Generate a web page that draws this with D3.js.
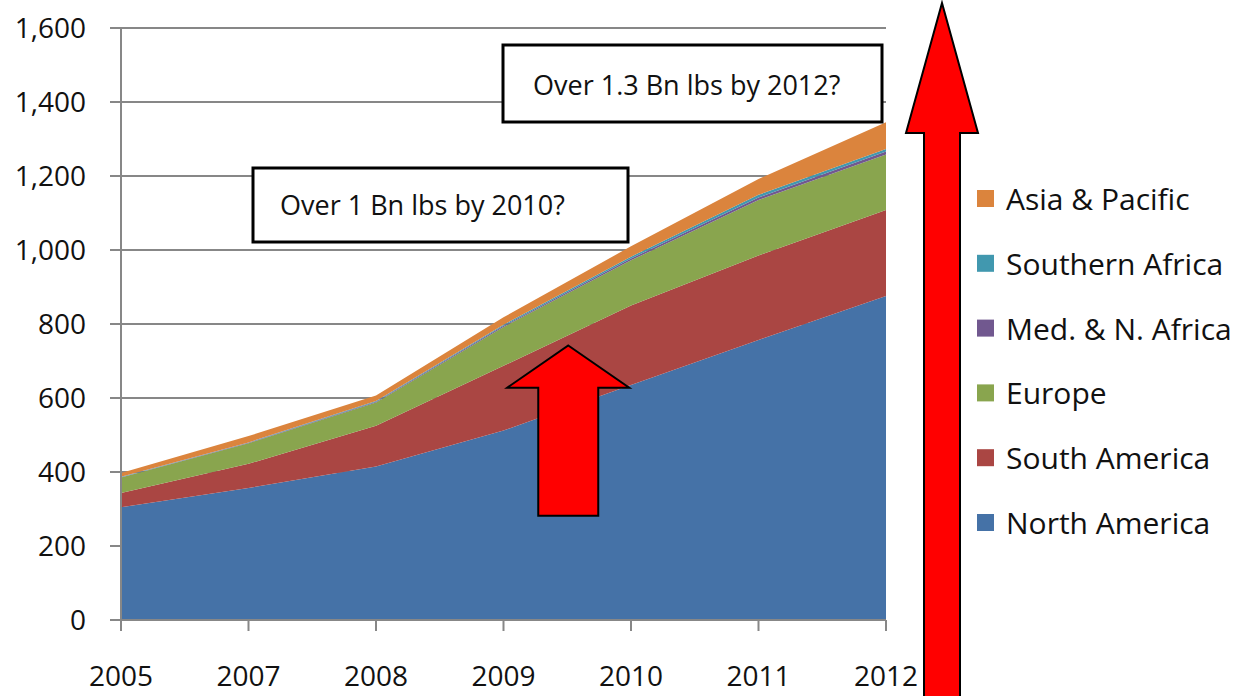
<!DOCTYPE html>
<html>
<head>
<meta charset="utf-8">
<script src="https://cdn.jsdelivr.net/npm/d3@7"></script>
<style>
  body { margin: 0; background: #fff; }
  svg { display: block; }
</style>
</head>
<body>
<svg id="chart" width="1248" height="696"></svg>
<script>
  // values (million lbs, stacked)
  const years = ['2005', '2007', '2008', '2009', '2010', '2011', '2012'];
  const northAmerica = [305, 357, 415, 512, 635, 757, 876];
  const southAmerica = [38, 65, 110, 175, 215, 228, 232];
  const europe = [42, 56, 63, 105, 122, 150, 150];
  const medNAfrica = [1, 1, 2, 3, 5, 7, 8];
  const southernAfrica = [1, 1, 2, 3, 5, 7, 7];
  const asiaPacific = [10, 17, 15, 20, 28, 43, 72];
  const seriesNames = ['North America', 'South America', 'Europe', 'Med. & N. Africa', 'Southern Africa', 'Asia & Pacific'];
  const yTicks = [0, 200, 400, 600, 800, 1000, 1200, 1400, 1600];
  const notes = ['Over 1.3 Bn lbs by 2012?', 'Over 1 Bn lbs by 2010?'];

  const colors = ['#4572A7', '#AA4643', '#89A54E', '#71588F', '#4198AF', '#DB843D'];
  const seriesValues = [northAmerica, southAmerica, europe, medNAfrica, southernAfrica, asiaPacific];

  const table = years.map((year, i) => {
    const row = { year: year };
    seriesNames.forEach((name, k) => { row[name] = seriesValues[k][i]; });
    return row;
  });

  const svg = d3.select('#chart');
  const x = d3.scalePoint().domain(years).range([121, 886]);
  const y = d3.scaleLinear().domain([0, 1600]).range([620, 28]);
  const font = 'Open Sans';

  // gridlines
  svg.append('g')
    .selectAll('line')
    .data(yTicks)
    .enter().append('line')
    .attr('x1', 110)
    .attr('x2', 886)
    .attr('y1', d => y(d))
    .attr('y2', d => y(d))
    .attr('stroke', '#878787')
    .attr('stroke-width', 2);

  const stacked = d3.stack().keys(seriesNames)(table);
  const area = d3.area()
    .x(d => x(d.data.year))
    .y0(d => y(d[0]))
    .y1(d => y(d[1]));

  svg.append('g')
    .selectAll('path')
    .data(stacked)
    .enter().append('path')
    .attr('d', area)
    .attr('fill', (d, i) => colors[i]);

  // axes
  svg.append('line')
    .attr('x1', 121).attr('x2', 121)
    .attr('y1', y(1600)).attr('y2', 630)
    .attr('stroke', '#878787').attr('stroke-width', 2);
  svg.append('line')
    .attr('x1', 121).attr('x2', 886)
    .attr('y1', y(0)).attr('y2', y(0))
    .attr('stroke', '#878787').attr('stroke-width', 2);
  svg.append('g')
    .selectAll('line')
    .data(years)
    .enter().append('line')
    .attr('x1', d => x(d)).attr('x2', d => x(d))
    .attr('y1', y(0)).attr('y2', 631)
    .attr('stroke', '#878787').attr('stroke-width', 2);

  svg.append('g')
    .selectAll('text')
    .data(yTicks)
    .enter().append('text')
    .attr('x', 86)
    .attr('y', d => y(d) + 10)
    .attr('text-anchor', 'end')
    .attr('font-family', font)
    .attr('font-size', 28)
    .attr('fill', '#111')
    .text(d => d3.format(',')(d));

  svg.append('g')
    .selectAll('text')
    .data(years)
    .enter().append('text')
    .attr('x', d => x(d))
    .attr('y', 686)
    .attr('text-anchor', 'middle')
    .attr('font-family', font)
    .attr('font-size', 28)
    .attr('fill', '#111')
    .text(d => d);

  // annotation boxes
  const boxes = [
    { x: 503, y: 45, w: 379, h: 77, tx: 533, ty: 95 },
    { x: 253, y: 168, w: 375, h: 74, tx: 280, ty: 215 }
  ];
  boxes.forEach((b, i) => {
    svg.append('rect')
      .attr('x', b.x).attr('y', b.y)
      .attr('width', b.w).attr('height', b.h)
      .attr('fill', '#fff')
      .attr('stroke', '#000')
      .attr('stroke-width', 3);
    svg.append('text')
      .attr('x', b.tx).attr('y', b.ty)
      .attr('font-family', font)
      .attr('font-size', 27)
      .attr('fill', '#111')
      .text(notes[i]);
  });

  // red arrows
  function arrow(tipX, tipY, headY, headHalf, shaftHalf, bottom) {
    return [
      [tipX, tipY],
      [tipX + headHalf, headY],
      [tipX + shaftHalf, headY],
      [tipX + shaftHalf, bottom],
      [tipX - shaftHalf, bottom],
      [tipX - shaftHalf, headY],
      [tipX - headHalf, headY]
    ];
  }
  const midX = (x('2009') + x('2010')) / 2;
  const arrows = [
    arrow(midX + 1, y(742), y(628), 61, 30, y(282)),
    arrow(942, 3, 133, 36, 18, 720)
  ];
  svg.append('g')
    .selectAll('polygon')
    .data(arrows)
    .enter().append('polygon')
    .attr('points', d => d.map(p => p.join(',')).join(' '))
    .attr('fill', '#ff0000')
    .attr('stroke', '#000')
    .attr('stroke-width', 2);

  // legend, top to bottom in reverse stack order
  const legend = svg.append('g')
    .selectAll('g')
    .data(seriesNames.slice().reverse())
    .enter().append('g')
    .attr('transform', (d, i) => `translate(977, ${199 + i * 64.8})`);
  legend.append('rect')
    .attr('x', 0).attr('y', -9)
    .attr('width', 17).attr('height', 17)
    .attr('fill', d => colors[seriesNames.indexOf(d)]);
  legend.append('text')
    .attr('x', 29).attr('y', 11)
    .attr('font-family', font)
    .attr('font-size', 30)
    .attr('fill', '#111')
    .text(d => d);
</script>
</body>
</html>
